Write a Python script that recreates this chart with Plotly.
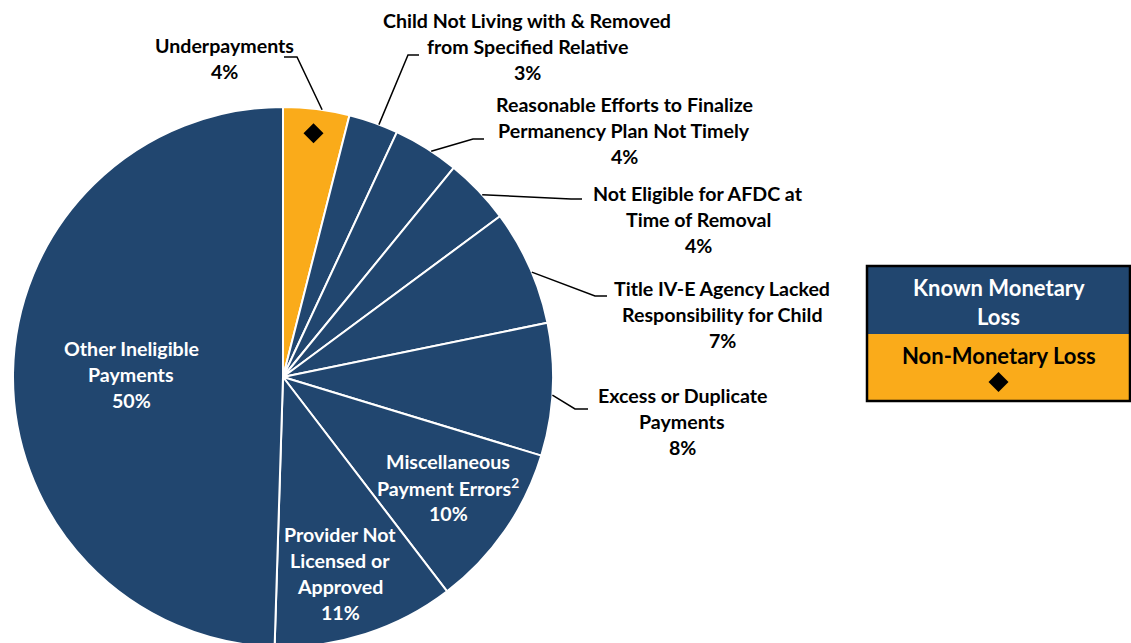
import math
import plotly.graph_objects as go

# Improper payment error categories, in clockwise order from 12 o'clock
categories = [
    "Underpayments",
    "Child Not Living with & Removed from Specified Relative",
    "Reasonable Efforts to Finalize Permanency Plan Not Timely",
    "Not Eligible for AFDC at Time of Removal",
    "Title IV-E Agency Lacked Responsibility for Child",
    "Excess or Duplicate Payments",
    "Miscellaneous Payment Errors",
    "Provider Not Licensed or Approved",
    "Other Ineligible Payments",
]
shares = [4, 3, 4, 4, 7, 8, 10, 11, 50]
loss_type = ["Non-Monetary"] + ["Known Monetary"] * 8

# Label text split into drawn lines (percentage line appended from shares)
label_lines = [
    ["Underpayments"],
    ["Child Not Living with & Removed", "from Specified Relative"],
    ["Reasonable Efforts to Finalize", "Permanency Plan Not Timely"],
    ["Not Eligible for AFDC at", "Time of Removal"],
    ["Title IV-E Agency Lacked", "Responsibility for Child"],
    ["Excess or Duplicate", "Payments"],
    ["Miscellaneous", "Payment Errors<sup>2</sup>"],
    ["Provider Not", "Licensed or", "Approved"],
    ["Other Ineligible", "Payments"],
]

legend_labels = ["Known Monetary", "Loss"]
legend_labels2 = ["Non-Monetary Loss"]

NAVY = "#21466F"
ORANGE = "#FAAB1A"
FONT = "Lato"
LABEL_SIZE = 19.6
KEY_SIZE = 22

W, H = 1131, 660
CX, CY, R = 283, 377, 270          # pie centre / radius in pixels

# label placement: (centre x, first line y, inside slice?)
label_pos = [
    (224, 45, False),
    (527, 20, False),
    (624, 104, False),
    (698, 193, False),
    (722, 288, False),
    (682, 395, False),
    (448, 461, True),
    (340, 534, True),
    (131, 348, True),
]
# leader line elbows and ends for outside labels
leaders = {
    0: [(297, 57), (284, 57)],
    1: [(408, 55), (419, 55)],
    2: [(473, 139), (484, 139)],
    3: [(571, 199), (582, 199)],
    4: [(595, 296), (607, 296)],
    5: [(575, 409), (588, 409)],
}
LINE_STEP = 26

total = sum(shares)
mid_angles = []
acc = 0
for v in shares:
    mid_angles.append((acc + v / 2) / total * 2 * math.pi)
    acc += v


def polar(angle, radius):
    return CX + radius * math.sin(angle), CY - radius * math.cos(angle)


def diamond_path(x, y, half):
    return (f"M {x:.1f},{y - half:.1f} L {x + half:.1f},{y:.1f} "
            f"L {x:.1f},{y + half:.1f} L {x - half:.1f},{y:.1f} Z")


colors = [ORANGE if t == "Non-Monetary" else NAVY for t in loss_type]

fig = go.Figure()
fig.add_trace(go.Pie(
    values=shares,
    labels=categories,
    sort=False,
    direction="clockwise",
    rotation=0,
    marker=dict(colors=colors, line=dict(color="white", width=2)),
    textinfo="none",
    hoverinfo="label+percent",
    showlegend=False,
    domain=dict(x=[(CX - R) / W, (CX + R) / W],
                y=[(H - CY - R) / H, (H - CY + R) / H]),
))

annotations = []
shapes = []

# diamond markers flag non-monetary slices
for i, t in enumerate(loss_type):
    if t == "Non-Monetary":
        px, py = polar(mid_angles[i], R * 0.91)
        shapes.append(dict(type="path", path=diamond_path(px, py, 10),
                           xref="x", yref="y", fillcolor="black",
                           line=dict(width=0), layer="above"))

for i, lines in enumerate(label_lines):
    x0, y0, inside = label_pos[i]
    color = "white" if inside else "black"
    for k, line in enumerate(lines + [f"{shares[i]}%"]):
        annotations.append(dict(
            x=x0, y=y0 + k * LINE_STEP, xref="x", yref="y", text=line,
            showarrow=False, xanchor="center", yanchor="middle",
            font=dict(family=FONT, size=LABEL_SIZE, color=color, weight="bold"),
        ))
    if i in leaders:
        sx, sy = polar(mid_angles[i] + math.radians(1.2), R)
        pts = [(sx, sy)] + leaders[i]
        path = "M " + " L ".join(f"{p[0]:.1f},{p[1]:.1f}" for p in pts)
        shapes.append(dict(type="path", path=path, xref="x", yref="y",
                           line=dict(color="black", width=1.5)))

# key box: monetary vs non-monetary loss
BX0, BX1, BY0, BMID, BY1 = 867, 1130, 266, 334, 401
shapes.append(dict(type="rect", x0=BX0, x1=BX1, y0=BY0, y1=BMID, xref="x", yref="y",
                   fillcolor=NAVY, line=dict(width=0), layer="below"))
shapes.append(dict(type="rect", x0=BX0, x1=BX1, y0=BMID, y1=BY1, xref="x", yref="y",
                   fillcolor=ORANGE, line=dict(width=0), layer="below"))
shapes.append(dict(type="rect", x0=BX0, x1=BX1, y0=BY0, y1=BY1, xref="x", yref="y",
                   fillcolor="rgba(0,0,0,0)", line=dict(color="black", width=2.5)))
bx = (BX0 + BX1) / 2
for k, line in enumerate(legend_labels):
    annotations.append(dict(x=bx, y=287 + k * 29, xref="x", yref="y", text=line,
                            showarrow=False, xanchor="center", yanchor="middle",
                            font=dict(family=FONT, size=KEY_SIZE, color="white", weight="bold")))
for k, line in enumerate(legend_labels2):
    annotations.append(dict(x=bx, y=355 + k * 26, xref="x", yref="y", text=line,
                            showarrow=False, xanchor="center", yanchor="middle",
                            font=dict(family=FONT, size=KEY_SIZE, color="black", weight="bold")))
shapes.append(dict(type="path", path=diamond_path(bx, 382, 10), xref="x", yref="y",
                   fillcolor="black", line=dict(width=0), layer="above"))

fig.update_layout(
    width=W, height=H,
    margin=dict(l=0, r=0, t=0, b=0),
    paper_bgcolor="white", plot_bgcolor="rgba(0,0,0,0)",
    xaxis=dict(range=[0, W], visible=False, fixedrange=True),
    yaxis=dict(range=[H, 0], visible=False, fixedrange=True),
    annotations=annotations,
    shapes=shapes,
)

clip = ("var gd=document.getElementById('{plot_id}');"
        "gd.style.height='643px';gd.style.overflow='hidden';"
        "document.body.style.margin='0';document.body.style.overflow='hidden';")
fig.write_html("out.html", post_script=clip)
